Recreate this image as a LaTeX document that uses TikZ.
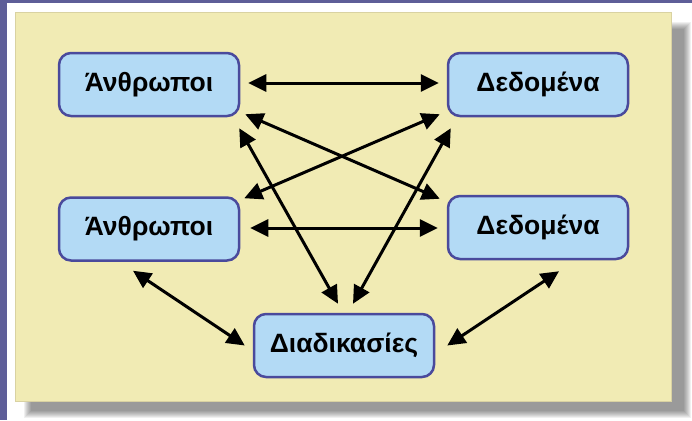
\documentclass[tikz,border=0pt]{standalone}
\usepackage{fontspec}
\setmainfont{Liberation Sans}
\usetikzlibrary{arrows.meta,calc}
\definecolor{frameback}{HTML}{5E5E98}
\definecolor{panelfill}{HTML}{F1EBB4}
\definecolor{paneledge}{HTML}{D9D2A2}
\definecolor{boxfill}{HTML}{B3DAF5}
\definecolor{boxedge}{HTML}{4A4A9C}
\tikzset{
  entity/.style={draw=boxedge, fill=boxfill, line width=2.5pt,
    rounded corners=12pt, minimum width=180pt, minimum height=63pt,
    inner sep=0pt, font=\fontsize{26.5}{30}\selectfont\bfseries},
  link/.style={line width=3pt, {Triangle[length=18pt,width=17pt]}-{Triangle[length=18pt,width=17pt]}}
}
\begin{document}
\begin{tikzpicture}[x=1pt,y=-1pt]
\useasboundingbox (0,0) rectangle (692,420);
% page background
\fill[frameback] (0,0) rectangle (692,420);
\fill[white] (7,3) rectangle (692,420);
% soft drop shadow of the panel
\foreach \i in {0,...,7}
  \fill[black, opacity=0.06] (24+\i,22+\i) rectangle (691-\i,418-\i);
% panel
\fill[panelfill, draw=paneledge, line width=0.8pt] (15,12) rectangle (671,401);

% boxes
\node[entity] (p1) at (149,84.5)  {Άνθρωποι};
\node[entity] (d1) at (538,84.5)  {Δεδομένα};
\node[entity] (p2) at (149,229)   {Άνθρωποι};
\node[entity] (d2) at (538,227.5) {Δεδομένα};
\node[entity] (pr) at (344,345.5) {Διαδικασίες};

% connections
\draw[link] ($(p1.east)+(8,-1.5)$) -- ($(d1.west)+(-8,-1.5)$);
\draw[link] ($(p2.east)+(10,-1)$) -- ($(d2.west)+(-9,0.5)$);
\draw[link] ($(p1.south east)+(5,-3)$) -- ($(d2.north west)+(-7,4)$);
\draw[link] ($(d1.south west)+(-7,-3)$) -- ($(p2.north east)+(4,2)$);
\draw[link] ($(p1.south east)+(-1,11)$) -- ($(pr.north)+(-6,-9)$);
\draw[link] ($(d1.south west)+(4,11)$) -- ($(pr.north)+(9,-9)$);
\draw[link] ($(p2.south)+(-16,9)$) -- ($(pr.west)+(-8,0)$);
\draw[link] ($(d2.south)+(21,11)$) -- ($(pr.east)+(12,0)$);
\end{tikzpicture}
\end{document}
